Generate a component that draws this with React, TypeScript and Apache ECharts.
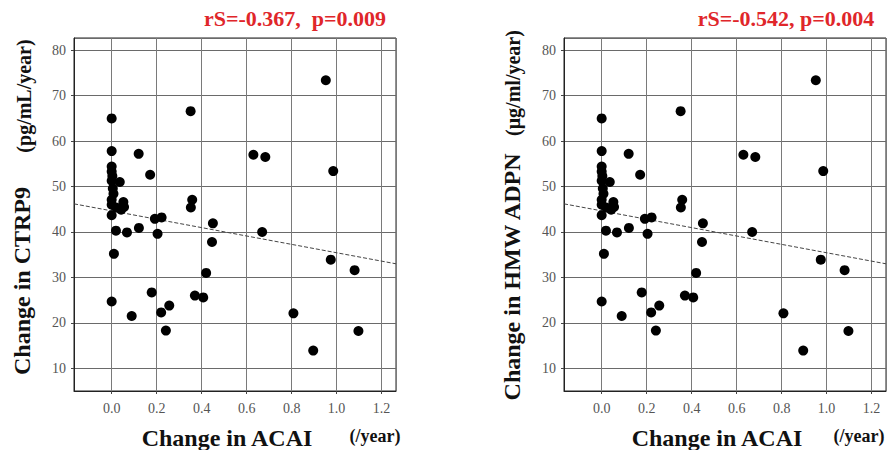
import React, { useEffect, useRef } from "react";
import * as echarts from "echarts";

// Change in ACAI (/year)
const acaiChange = [
  0.952, 0.351, 0.0, 0.0, 0.12, 0.63, 0.683, 0.985, 0.171,
  0.0, 0.0, 0.003, 0.0, 0.036, 0.005, 0.008, 0.0, 0.052, 0.055, 0.02, 0.0, 0.042, 0.0,
  0.358, 0.352, 0.192, 0.222, 0.45, 0.019, 0.068, 0.121, 0.204, 0.669, 0.446, 0.01,
  0.974, 1.08, 0.42, 0.0, 0.178, 0.089, 0.22, 0.256, 0.241, 0.37, 0.407, 0.808, 0.896, 1.097,
];
// Change in CTRP9 (pg/mL/year)
const ctrp9Change = [
  73.4, 66.6, 65.0, 57.8, 57.2, 57.0, 56.5, 53.4, 52.6,
  54.4, 53.3, 52.3, 51.3, 51.0, 49.6, 48.4, 47.1, 46.6, 45.5, 45.4, 46.0, 44.9, 43.7,
  47.1, 45.4, 42.9, 43.2, 41.9, 40.3, 39.9, 40.9, 39.6, 40.0, 37.8, 35.2,
  33.9, 31.6, 31.0, 24.7, 26.7, 21.5, 22.3, 23.8, 18.3, 26.0, 25.6, 22.1, 13.9, 18.2,
];
// Change in HMW ADPN (μg/ml/year)
const hmwAdpnChange = [
  73.4, 66.6, 65.0, 57.8, 57.2, 57.0, 56.5, 53.4, 52.6,
  54.4, 53.3, 52.3, 51.3, 51.0, 49.6, 48.4, 47.1, 46.6, 45.5, 45.4, 46.0, 44.9, 43.7,
  47.1, 45.4, 42.9, 43.2, 41.9, 40.3, 39.9, 40.9, 39.6, 40.0, 37.8, 35.2,
  33.9, 31.6, 31.0, 24.7, 26.7, 21.5, 22.3, 23.8, 18.3, 26.0, 25.6, 22.1, 13.9, 18.2,
];
// regression lines: [intercept, slope]
const trendCtrp9 = [44.65, -9.22];
const trendAdpn = [44.65, -9.22];
const statTexts = ["rS=-0.367,  p=0.009", "rS=-0.542, p=0.004"];
const xRange = [-0.1675, 1.264];
const yRange = [5, 82.7];

const SERIF = "'Liberation Serif', 'Times New Roman', serif";

export default function App() {
  const ref = useRef<HTMLDivElement>(null);
  useEffect(() => {
    if (!ref.current) return;
    const chart = echarts.init(ref.current, null, { renderer: "svg" });
    const grids = [
      { left: 74, top: 38, width: 322, height: 353 },
      { left: 564, top: 38, width: 322, height: 353 },
    ];
    const mkX = (i: number) => ({
      type: "value",
      gridIndex: i,
      min: xRange[0],
      max: xRange[1],
      minInterval: 0.2,
      maxInterval: 0.2,
      axisLine: { show: true, onZero: false, lineStyle: { color: "#222", width: 1 } },
      axisTick: { show: true, inside: false, length: 3, lineStyle: { color: "#444" } },
      axisLabel: {
        showMinLabel: false,
        showMaxLabel: false,
        margin: 10,
        color: "#555",
        fontFamily: SERIF,
        fontSize: 14,
        formatter: (v: number) => {
          const r = Math.round(v / 0.2) * 0.2;
          return Math.abs(r - v) < 1e-6 ? r.toFixed(1) : "";
        },
      },
      splitLine: { show: true, lineStyle: { color: "#7a7a7a", width: 1 } },
    });
    const mkY = (i: number) => ({
      type: "value",
      gridIndex: i,
      min: yRange[0],
      max: yRange[1],
      minInterval: 10,
      maxInterval: 10,
      axisLine: { show: true, onZero: false, lineStyle: { color: "#222", width: 1 } },
      axisTick: { show: true, inside: false, length: 3, lineStyle: { color: "#444" } },
      axisLabel: {
        showMinLabel: false,
        showMaxLabel: false,
        margin: 8,
        color: "#555",
        fontFamily: SERIF,
        fontSize: 14,
        formatter: (v: number) => (Math.abs(v % 10) < 1e-6 ? String(v) : ""),
      },
      splitLine: { show: true, lineStyle: { color: "#6a6a6a", width: 1 } },
    });
    const pts = (ys: number[]) => acaiChange.map((x, k) => [x, ys[k]]);
    const trend = (t: number[]) => xRange.map((x) => [x, t[0] + t[1] * x]);
    const scatter = (i: number, ys: number[]) => ({
      type: "scatter",
      xAxisIndex: i,
      yAxisIndex: i,
      data: pts(ys),
      symbolSize: 10,
      itemStyle: { color: "#000", opacity: 1 },
      z: 3,
    });
    const line = (i: number, t: number[]) => ({
      type: "line",
      xAxisIndex: i,
      yAxisIndex: i,
      data: trend(t),
      symbol: "none",
      lineStyle: { color: "#444", width: 1, type: [4, 2] },
      z: 2,
    });
    const txt = (x: number, y: number, text: string, size: number, opts: any = {}) => ({
      type: "text",
      x,
      y,
      rotation: opts.rotation || 0,
      style: {
        text,
        fontFamily: SERIF,
        fontWeight: "bold",
        fontSize: size,
        fill: opts.color || "#111",
        textAlign: "center",
        textVerticalAlign: "middle",
      },
    });
    chart.setOption({
      animation: false,
      backgroundColor: "#fff",
      grid: grids.map((g) => ({ ...g, show: true, borderColor: "#222", borderWidth: 1, backgroundColor: "transparent" })),
      xAxis: [mkX(0), mkX(1)],
      yAxis: [mkY(0), mkY(1)],
      series: [scatter(0, ctrp9Change), line(0, trendCtrp9), scatter(1, hmwAdpnChange), line(1, trendAdpn)],
      graphic: [
        txt(295, 18, statTexts[0], 22, { color: "#e0262a" }),
        txt(786, 18, statTexts[1], 22, { color: "#e0262a" }),
        txt(227, 438, "Change in ACAI", 24),
        txt(375, 436, "(/year)", 18),
        txt(717, 438, "Change in ACAI", 24),
        txt(859, 436, "(/year)", 18),
        txt(22, 281, "Change in CTRP9", 24, { rotation: Math.PI / 2 }),
        txt(24, 96, "(pg/mL/year)", 20, { rotation: Math.PI / 2 }),
        txt(512, 277, "Change in HMW ADPN", 24, { rotation: Math.PI / 2 }),
        txt(513, 83, "(μg/ml/year)", 20, { rotation: Math.PI / 2 }),
      ],
    });
    return () => chart.dispose();
  }, []);
  return <div ref={ref} style={{ position: "fixed", left: 0, top: 0, width: 887, height: 450 }} />;
}
